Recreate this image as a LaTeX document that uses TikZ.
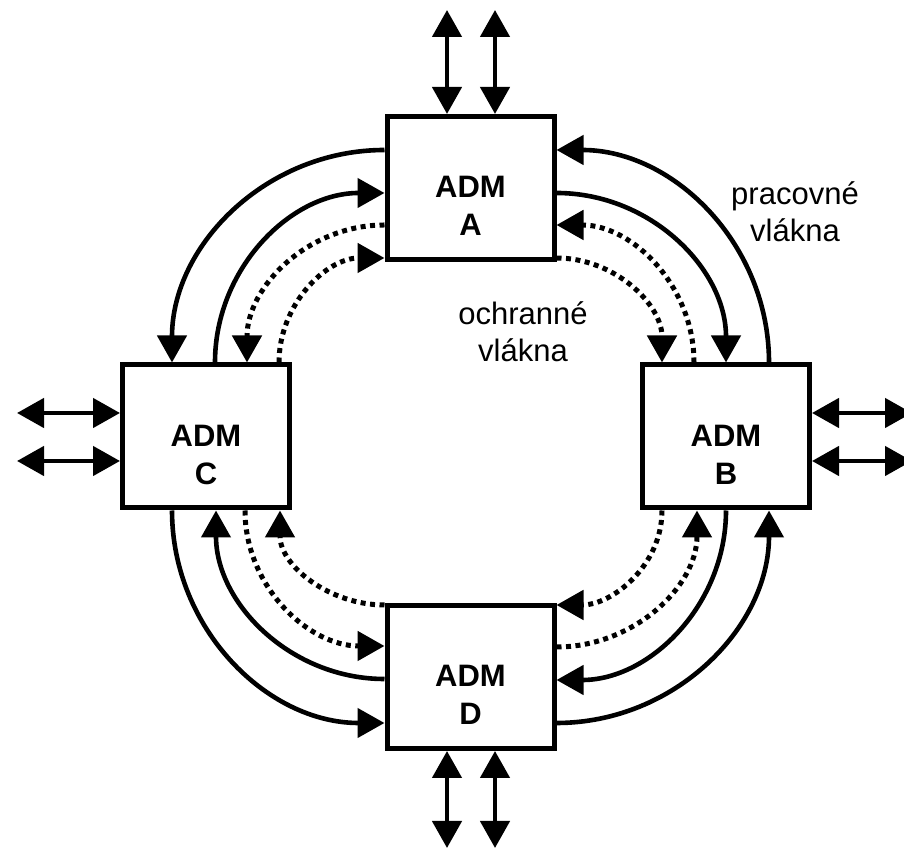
\documentclass[tikz,border=0pt]{standalone}
\usepackage{fontspec}
\setmainfont{Liberation Sans}
\usetikzlibrary{arrows.meta}
\begin{document}
\begin{tikzpicture}[x=1pt,y=1pt,
  adm/.style={draw, line width=5pt, minimum width=167pt, minimum height=143pt, inner sep=0pt},
  admtext/.style={font=\fontsize{31}{38}\selectfont\bfseries, align=center, inner sep=0pt},
  note/.style={font=\fontsize{31}{37}\selectfont, align=center, inner sep=0pt},
  fiber/.style={line width=4.6pt, -{Triangle[length=27pt,width=29pt]}},
  spare/.style={fiber, line width=5pt, dash pattern=on 5pt off 4.5pt},
  io/.style={line width=4.6pt, {Triangle[length=27pt,width=29pt]}-{Triangle[length=27pt,width=29pt]}},
]
\useasboundingbox (0,0) rectangle (904,853);

% add/drop multiplexers
\node[adm] (A) at (470.5,665) {};
\node[adm] (B) at (726,416.5) {};
\node[adm] (C) at (206,416.5) {};
\node[adm] (D) at (470.5,176) {};

\node[admtext] (tA) at (470.5,647) {ADM\\A};
\node[admtext] (tB) at (726,398.5) {ADM\\B};
\node[admtext] (tC) at (206,398.5) {ADM\\C};
\node[admtext] (tD) at (470.5,158) {ADM\\D};

\node[note] (work) at (795,641) {pracovné\\vlákna};
\node[note] (prot) at (523,521) {ochranné\\vlákna};

% tributary ports
\coordinate (pa1) at (447,843);
\coordinate (pa2) at (495,843);
\coordinate (pd1) at (447,5);
\coordinate (pd2) at (495,5);
\coordinate (pc1) at (17,440);
\coordinate (pc2) at (17,392);
\coordinate (pb1) at (912,440);
\coordinate (pb2) at (912,392);
\draw[io] (pa1) -- (A.north -| pa1);
\draw[io] (pa2) -- (A.north -| pa2);
\draw[io] (pd1) -- (D.south -| pd1);
\draw[io] (pd2) -- (D.south -| pd2);
\draw[io] (pc1) -- (C.west |- pc1);
\draw[io] (pc2) -- (C.west |- pc2);
\draw[io] (pb1) -- (B.east |- pb1);
\draw[io] (pb2) -- (B.east |- pb2);

% A -- C
\draw[fiber] (A.west |- 0,703) to[out=180,in=90] (C.north -| 172,0);
\draw[fiber] (C.north -| 215,0) to[out=90,in=180] (A.west |- 0,660);
\draw[spare] (A.west |- 0,628) to[out=180,in=90] (C.north -| 247,0);
\draw[spare] (C.north -| 279,0) to[out=90,in=180] (A.west |- 0,595);

% A -- B
\draw[fiber] (B.north -| 769,0) to[out=90,in=0] (A.east |- 0,703);
\draw[fiber] (A.east |- 0,660) to[out=0,in=90] (B.north -| 726,0);
\draw[spare] (B.north -| 694,0) to[out=90,in=0] (A.east |- 0,628);
\draw[spare] (A.east |- 0,595) to[out=0,in=90] (B.north -| 662,0);

% C -- D
\draw[fiber] (C.south -| 172,0) to[out=-90,in=180] (D.west |- 0,130);
\draw[fiber] (D.west |- 0,174) to[out=180,in=-90] (C.south -| 216,0);
\draw[spare] (C.south -| 245,0) to[out=-90,in=180] (D.west |- 0,207);
\draw[spare] (D.west |- 0,248) to[out=180,in=-90] (C.south -| 280,0);

% B -- D
\draw[fiber] (D.east |- 0,130) to[out=0,in=-90] (B.south -| 769,0);
\draw[fiber] (B.south -| 726,0) to[out=-90,in=0] (D.east |- 0,173);
\draw[spare] (D.east |- 0,206) to[out=0,in=-90] (B.south -| 697,0);
\draw[spare] (B.south -| 662,0) to[out=-90,in=0] (D.east |- 0,248);
\end{tikzpicture}
\end{document}
